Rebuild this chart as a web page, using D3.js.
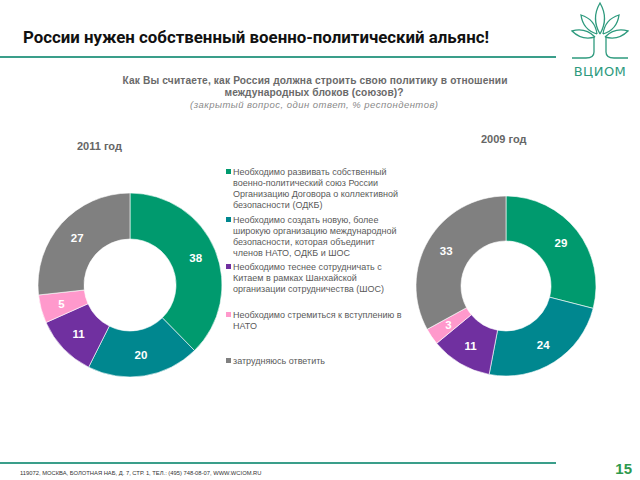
<!DOCTYPE html>
<html><head><meta charset="utf-8">
<script src="https://cdn.jsdelivr.net/npm/d3@7"></script>
<style>body{margin:0;background:#fff}svg{display:block}</style>
</head><body>
<script>
const categories = [
  "Необходимо развивать собственный военно-политический союз России Организацию Договора о коллективной безопасности (ОДКБ)",
  "Необходимо создать новую, более широкую организацию международной безопасности, которая объединит членов НАТО, ОДКБ и ШОС",
  "Необходимо теснее сотрудничать с Китаем в рамках Шанхайской организации сотрудничества (ШОС)",
  "Необходимо стремиться к вступлению в НАТО",
  "затрудняюсь ответить"
];
const legendLines = [
  ["Необходимо развивать собственный","военно-политический союз России","Организацию Договора о коллективной","безопасности (ОДКБ)"],
  ["Необходимо создать новую, более","широкую организацию международной","безопасности, которая объединит","членов НАТО, ОДКБ и ШОС"],
  ["Необходимо теснее сотрудничать с","Китаем в рамках Шанхайской","организации сотрудничества (ШОС)"],
  ["Необходимо стремиться к вступлению в","НАТО"],
  ["затрудняюсь ответить"]
];
const values2011 = [38, 20, 11, 5, 27];
const values2009 = [29, 24, 11, 3, 33];
const colors = ["#009a6e", "#00878f", "#7030a0", "#ff99cc", "#808080"];

const W = 640, H = 480;
const svg = d3.select("body").append("svg").attr("width", W).attr("height", H);
const green = "#3a9e8a";

// Title
svg.append("text").attr("x", 23).attr("y", 43).attr("font-family", "Roboto, 'Noto Sans', sans-serif")
  .attr("font-size", 16).attr("font-weight", "bold").attr("fill", "#111")
  .attr("textLength", 466).attr("lengthAdjust", "spacingAndGlyphs")
  .text("России нужен собственный военно-политический альянс!");
svg.append("line").attr("x1", 0).attr("x2", 556).attr("y1", 57).attr("y2", 57)
  .attr("stroke", green).attr("stroke-width", 2);

// Logo
const logo = svg.append("g").attr("fill", "none").attr("stroke", "#2e9a7e").attr("stroke-width", 1.3);
function leaf(x1, y1, x2, y2, w) {
  const mx = (x1 + x2) / 2, my = (y1 + y2) / 2;
  const dx = x2 - x1, dy = y2 - y1, L = Math.hypot(dx, dy);
  const nx = -dy / L * w, ny = dx / L * w;
  logo.append("path").attr("d", `M${x1},${y1} Q${mx + nx},${my + ny} ${x2},${y2} Q${mx - nx},${my - ny} ${x1},${y1}`);
}
leaf(600, 34, 600, 3, 9);
leaf(597, 34, 581, 15, 8);
leaf(603, 34, 619, 15, 8);
leaf(595, 37, 572, 31, 7);
leaf(605, 37, 628, 31, 7);
logo.append("path").attr("d", "M594,38 L594,52 Q594,58 586,58 L572,58");
logo.append("path").attr("d", "M606,38 L606,52 Q606,58 614,58 L628,58");
svg.append("text").attr("x", 600).attr("y", 76).attr("text-anchor", "middle")
  .attr("font-family", "'DejaVu Sans', sans-serif").attr("font-size", 13).attr("fill", "#2e9a7e")
  .attr("letter-spacing", 0.5).text("ВЦИОМ");

// Question
const q = svg.append("g").attr("font-family", "Arial, 'Liberation Sans', sans-serif").attr("fill", "#6a6a6a").attr("text-anchor", "middle");
q.append("text").attr("x", 315).attr("y", 84).attr("font-size", 10.2).attr("font-weight", "bold")
  .attr("textLength", 385).attr("lengthAdjust", "spacing")
  .text("Как Вы считаете, как Россия должна строить свою политику в отношении");
q.append("text").attr("x", 314).attr("y", 96).attr("font-size", 10.2).attr("font-weight", "bold")
  .attr("textLength", 179).attr("lengthAdjust", "spacing")
  .text("международных блоков (союзов)?");
q.append("text").attr("x", 314).attr("y", 108).attr("font-size", 9.5).attr("font-style", "italic").attr("fill", "#8a8a8a")
  .attr("textLength", 248).attr("lengthAdjust", "spacing")
  .text("(закрытый вопрос, один ответ, % респондентов)");

// Year labels
svg.append("text").attr("x", 77).attr("y", 150).attr("font-family", "Arial, 'Liberation Sans', sans-serif")
  .attr("font-size", 11).attr("font-weight", "bold").attr("fill", "#666").text("2011 год");
svg.append("text").attr("x", 481).attr("y", 143).attr("font-family", "Arial, 'Liberation Sans', sans-serif")
  .attr("font-size", 11).attr("font-weight", "bold").attr("fill", "#666").text("2009 год");

// Donuts
const pie = d3.pie().sort(null).value(d => d);
function donut(values, cx, cy, ro, ri) {
  const arc = d3.arc().outerRadius(ro).innerRadius(ri);
  const lab = d3.arc().outerRadius((ro + ri) / 2 + 2).innerRadius((ro + ri) / 2 + 2);
  const g = svg.append("g").attr("transform", `translate(${cx},${cy})`);
  const arcs = pie(values);
  g.selectAll("path").data(arcs).join("path").attr("d", arc)
    .attr("fill", (d, i) => colors[i]).attr("stroke", "#fff").attr("stroke-width", 0.6);
  g.selectAll("text").data(arcs).join("text")
    .attr("x", d => lab.centroid(d)[0]).attr("y", d => lab.centroid(d)[1] + 4)
    .attr("text-anchor", "middle").attr("font-family", "Arial, 'Liberation Sans', sans-serif")
    .attr("font-size", 11.5).attr("font-weight", "bold").attr("fill", "#fff")
    .text(d => d.data);
}
donut(values2011, 130, 285, 92, 46);
donut(values2009, 506, 286, 90, 45);

// Legend
const legTop = [175, 223, 270, 318, 364];
const leg = svg.append("g").attr("font-family", "Arial, 'Liberation Sans', sans-serif").attr("font-size", 9).attr("fill", "#5a5a5a");
legendLines.forEach((lines, i) => {
  leg.append("rect").attr("x", 226).attr("y", legTop[i] - 6).attr("width", 5).attr("height", 5).attr("fill", colors[i]);
  lines.forEach((t, j) => {
    leg.append("text").attr("x", 233).attr("y", legTop[i] + j * 11).text(t);
  });
});

// Footer
svg.append("line").attr("x1", 0).attr("x2", 556).attr("y1", 463).attr("y2", 463)
  .attr("stroke", green).attr("stroke-width", 2);
svg.append("text").attr("x", 20).attr("y", 475).attr("font-family", "Arial, 'Liberation Sans', sans-serif")
  .attr("font-size", 5.8).attr("fill", "#333")
  .text("119072, МОСКВА, БОЛОТНАЯ НАБ, Д. 7, СТР. 1, ТЕЛ.: (495) 748-08-07, WWW.WCIOM.RU");
svg.append("text").attr("x", 632).attr("y", 474).attr("text-anchor", "end")
  .attr("font-family", "Arial, 'Liberation Sans', sans-serif").attr("font-size", 15).attr("font-weight", "bold")
  .attr("fill", "#2e9a4e").text("15");
</script>
</body></html>
